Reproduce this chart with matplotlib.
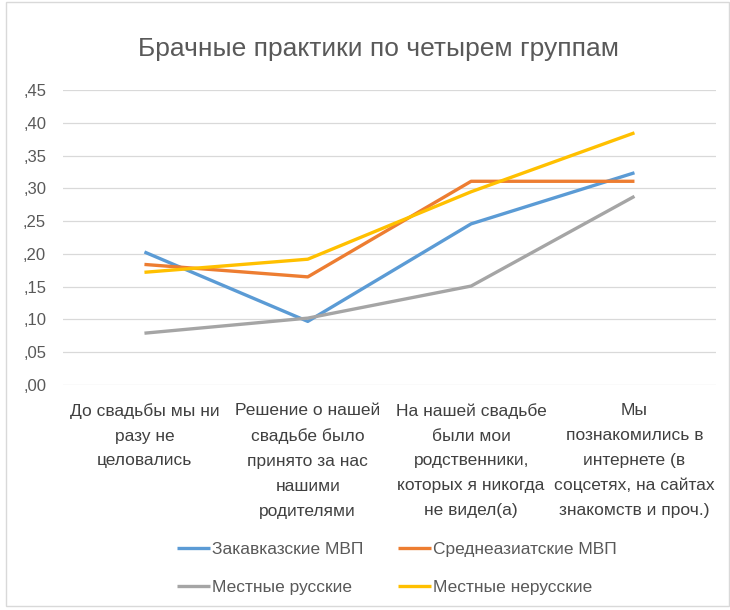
import matplotlib.pyplot as plt
from matplotlib.patches import Rectangle

plt.rcParams['font.family'] = ['Liberation Sans', 'DejaVu Sans']

# ── data ──────────────────────────────────────
categories = [
    "До свадьбы мы ни\nразу не\nцеловались",
    "Решение о нашей\nсвадьбе было\nпринято за нас\nнашими\nродителями",
    "На нашей свадьбе\nбыли мои\nродственники,\nкоторых я никогда\nне видел(а)",
    "Мы\nпознакомились в\nинтернете (в\nсоцсетях, на сайтах\nзнакомств и проч.)",
]
zakavkaz = [0.203, 0.097, 0.246, 0.324]
sredazia = [0.184, 0.165, 0.311, 0.311]
rus_local = [0.079, 0.102, 0.151, 0.288]
nerus_local = [0.172, 0.192, 0.295, 0.385]

series_names = ["Закавказские МВП", "Среднеазиатские МВП",
                "Местные русские", "Местные нерусские"]
colors = ["#5B9BD5", "#ED7D31", "#A5A5A5", "#FFC000"]

yticks = [0.00, 0.05, 0.10, 0.15, 0.20, 0.25, 0.30, 0.35, 0.40, 0.45]
ytick_labels = [",00", ",05", ",10", ",15", ",20", ",25", ",30", ",35", ",40", ",45"]

# ── figure ────────────────────────────────────
fig = plt.figure(figsize=(7.3, 6.1), dpi=100)
ax = fig.add_axes([0.086, 0.369, 0.895, 0.483])

x = range(len(categories))
for vals, name, c in zip([zakavkaz, sredazia, rus_local, nerus_local], series_names, colors):
    ax.plot(x, vals, color=c, lw=2.4, label=name, solid_capstyle="butt")

ax.set_xlim(-0.5, len(categories) - 0.5)
ax.set_ylim(0, 0.45)
ax.set_yticks(yticks)
ax.set_yticklabels(ytick_labels, color="#595959", fontsize=12)
ax.set_xticks(list(x))
ax.set_xticklabels(categories, color="#404040", fontsize=12.5, linespacing=1.82, va="top")
ax.tick_params(axis="x", length=0, pad=13)
ax.tick_params(axis="y", length=0, pad=12)
ax.grid(axis="y", color="#D9D9D9", lw=0.9)
ax.set_axisbelow(True)
for s in ax.spines.values():
    s.set_visible(False)

fig.text(0.519, 0.92, "Брачные практики по четырем группам", ha="center", va="center",
         fontsize=19, color="#595959")

# Excel-style legend: 2 x 2, filled row by row
handles, labels = ax.get_legend_handles_labels()
order = [0, 2, 1, 3]
fig.legend([handles[i] for i in order], [labels[i] for i in order],
           loc="center", bbox_to_anchor=(0.544, 0.068), ncol=2,
           frameon=False, fontsize=12.5, handlelength=1.9, handletextpad=0.1,
           columnspacing=2.0, labelspacing=1.3, labelcolor="#595959")

# chart border
fig.patches.append(Rectangle((0.008, 0.006), 0.99, 0.99, transform=fig.transFigure,
                             fill=False, ec="#D9D9D9", lw=1))

fig.savefig("out.png", dpi=100, facecolor="white")
